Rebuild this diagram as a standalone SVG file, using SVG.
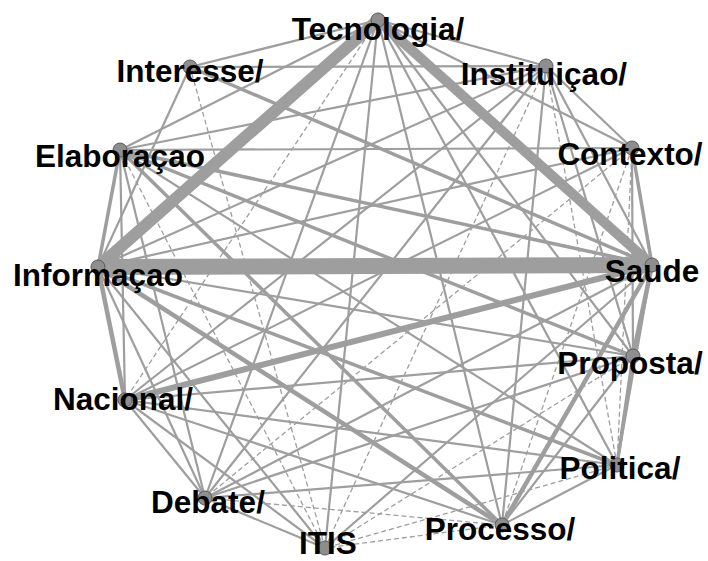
<svg xmlns="http://www.w3.org/2000/svg" width="708" height="561" viewBox="0 0 708 561">
<style>
.e{stroke:#9e9e9e;fill:none;stroke-linecap:butt}
.A{stroke-width:16}.B{stroke-width:12}.C{stroke-width:10}.D{stroke-width:6}
.E{stroke-width:4.5}.F{stroke-width:3.5}.G{stroke-width:2.2}
.H{stroke-width:1.3;stroke-dasharray:5 3}
.n{fill:#8e8e8e;stroke:#5a5a5a;stroke-width:1}
.t{font-family:"Liberation Sans",Arial,sans-serif;font-weight:bold;font-size:31.5px;fill:#000;text-anchor:middle}
</style>
<rect width="708" height="561" fill="#fff"/>
<g id="edges">
<line class="e G" x1="378" y1="20" x2="546" y2="66"/>
<line class="e G" x1="378" y1="20" x2="632" y2="148"/>
<line class="e G" x1="378" y1="20" x2="633" y2="356"/>
<line class="e G" x1="378" y1="20" x2="617" y2="465"/>
<line class="e G" x1="378" y1="20" x2="502" y2="525"/>
<line class="e G" x1="378" y1="20" x2="325" y2="548"/>
<line class="e G" x1="378" y1="20" x2="205" y2="498"/>
<line class="e H" x1="378" y1="20" x2="125" y2="400"/>
<line class="e G" x1="378" y1="20" x2="120" y2="150"/>
<line class="e G" x1="378" y1="20" x2="190" y2="67"/>
<line class="e G" x1="546" y1="66" x2="632" y2="148"/>
<line class="e G" x1="546" y1="66" x2="652" y2="265"/>
<line class="e G" x1="546" y1="66" x2="633" y2="356"/>
<line class="e H" x1="546" y1="66" x2="617" y2="465"/>
<line class="e G" x1="546" y1="66" x2="502" y2="525"/>
<line class="e H" x1="546" y1="66" x2="325" y2="548"/>
<line class="e G" x1="546" y1="66" x2="205" y2="498"/>
<line class="e G" x1="546" y1="66" x2="125" y2="400"/>
<line class="e G" x1="546" y1="66" x2="98" y2="267"/>
<line class="e G" x1="546" y1="66" x2="120" y2="150"/>
<line class="e G" x1="546" y1="66" x2="190" y2="67"/>
<line class="e F" x1="632" y1="148" x2="652" y2="265"/>
<line class="e G" x1="632" y1="148" x2="633" y2="356"/>
<line class="e H" x1="632" y1="148" x2="617" y2="465"/>
<line class="e H" x1="632" y1="148" x2="502" y2="525"/>
<line class="e H" x1="632" y1="148" x2="205" y2="498"/>
<line class="e G" x1="632" y1="148" x2="125" y2="400"/>
<line class="e G" x1="632" y1="148" x2="98" y2="267"/>
<line class="e G" x1="632" y1="148" x2="120" y2="150"/>
<line class="e E" x1="652" y1="265" x2="633" y2="356"/>
<line class="e G" x1="652" y1="265" x2="617" y2="465"/>
<line class="e E" x1="652" y1="265" x2="502" y2="525"/>
<line class="e G" x1="652" y1="265" x2="325" y2="548"/>
<line class="e G" x1="652" y1="265" x2="205" y2="498"/>
<line class="e D" x1="652" y1="265" x2="125" y2="400"/>
<line class="e F" x1="652" y1="265" x2="120" y2="150"/>
<line class="e F" x1="652" y1="265" x2="190" y2="67"/>
<line class="e F" x1="633" y1="356" x2="617" y2="465"/>
<line class="e G" x1="633" y1="356" x2="502" y2="525"/>
<line class="e H" x1="633" y1="356" x2="325" y2="548"/>
<line class="e G" x1="633" y1="356" x2="205" y2="498"/>
<line class="e G" x1="633" y1="356" x2="125" y2="400"/>
<line class="e G" x1="633" y1="356" x2="98" y2="267"/>
<line class="e F" x1="633" y1="356" x2="120" y2="150"/>
<line class="e G" x1="617" y1="465" x2="502" y2="525"/>
<line class="e H" x1="617" y1="465" x2="325" y2="548"/>
<line class="e G" x1="617" y1="465" x2="205" y2="498"/>
<line class="e G" x1="617" y1="465" x2="125" y2="400"/>
<line class="e F" x1="617" y1="465" x2="98" y2="267"/>
<line class="e G" x1="617" y1="465" x2="120" y2="150"/>
<line class="e H" x1="502" y1="525" x2="325" y2="548"/>
<line class="e H" x1="502" y1="525" x2="205" y2="498"/>
<line class="e G" x1="502" y1="525" x2="125" y2="400"/>
<line class="e E" x1="502" y1="525" x2="98" y2="267"/>
<line class="e F" x1="502" y1="525" x2="120" y2="150"/>
<line class="e G" x1="325" y1="548" x2="205" y2="498"/>
<line class="e G" x1="325" y1="548" x2="125" y2="400"/>
<line class="e G" x1="325" y1="548" x2="98" y2="267"/>
<line class="e H" x1="325" y1="548" x2="120" y2="150"/>
<line class="e H" x1="325" y1="548" x2="190" y2="67"/>
<line class="e G" x1="205" y1="498" x2="125" y2="400"/>
<line class="e G" x1="205" y1="498" x2="98" y2="267"/>
<line class="e G" x1="205" y1="498" x2="120" y2="150"/>
<line class="e E" x1="125" y1="400" x2="98" y2="267"/>
<line class="e G" x1="125" y1="400" x2="120" y2="150"/>
<line class="e F" x1="98" y1="267" x2="120" y2="150"/>
<line class="e G" x1="98" y1="267" x2="190" y2="67"/>
<line class="e C" x1="378" y1="20" x2="652" y2="265"/>
<line class="e B" x1="378" y1="20" x2="98" y2="267"/>
<line class="e A" x1="98" y1="267" x2="652" y2="265"/>
</g>
<g id="n-tecnologia"><circle class="n" cx="378" cy="20" r="7"/><text class="t" x="378" y="40">Tecnologia/</text></g>
<g id="n-instituicao"><circle class="n" cx="546" cy="66" r="7"/><text class="t" x="544" y="85">Instituiçao/</text></g>
<g id="n-contexto"><circle class="n" cx="632" cy="148" r="7"/><text class="t" x="630" y="165">Contexto/</text></g>
<g id="n-saude"><circle class="n" cx="652" cy="265" r="7"/><text class="t" x="652" y="282">Saude</text></g>
<g id="n-proposta"><circle class="n" cx="633" cy="356" r="7"/><text class="t" x="630" y="374">Proposta/</text></g>
<g id="n-politica"><circle class="n" cx="617" cy="465" r="7"/><text class="t" x="620" y="479">Politica/</text></g>
<g id="n-processo"><circle class="n" cx="502" cy="525" r="7"/><text class="t" x="500" y="540">Processo/</text></g>
<g id="n-itis"><circle class="n" cx="325" cy="548" r="7"/><text class="t" x="328" y="554">ITIS</text></g>
<g id="n-debate"><circle class="n" cx="205" cy="498" r="7"/><text class="t" x="208" y="513">Debate/</text></g>
<g id="n-nacional"><circle class="n" cx="125" cy="400" r="7"/><text class="t" x="123" y="410">Nacional/</text></g>
<g id="n-informacao"><circle class="n" cx="98" cy="267" r="7"/><text class="t" x="98" y="286">Informaçao</text></g>
<g id="n-elaboracao"><circle class="n" cx="120" cy="150" r="7"/><text class="t" x="120" y="167">Elaboraçao</text></g>
<g id="n-interesse"><circle class="n" cx="190" cy="67" r="7"/><text class="t" x="190" y="82">Interesse/</text></g>
</svg>
